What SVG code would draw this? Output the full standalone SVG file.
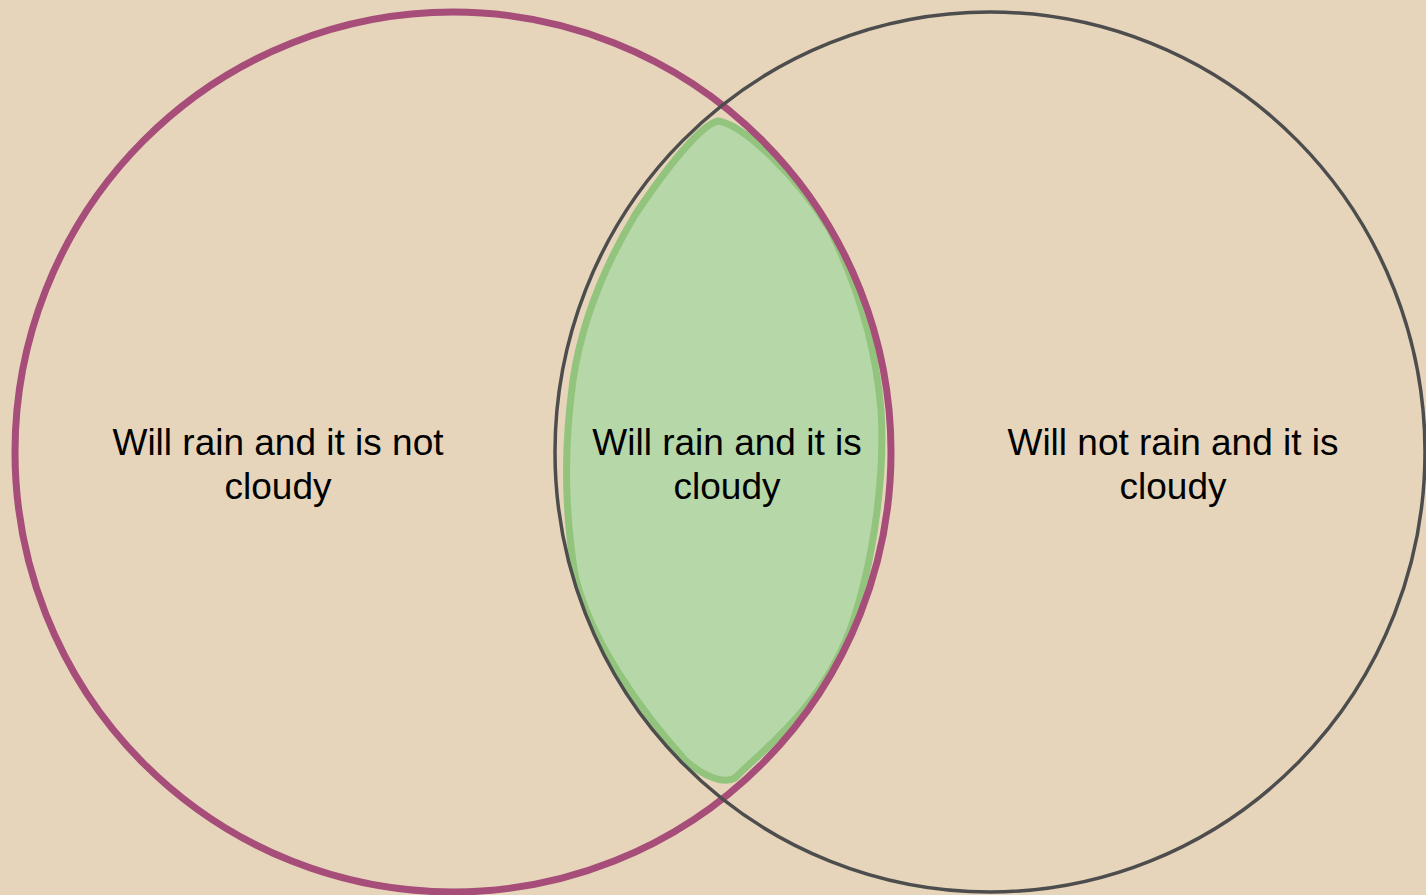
<svg xmlns="http://www.w3.org/2000/svg" width="1426" height="895" viewBox="0 0 1426 895">
<style>
.lbl{font-family:"Liberation Sans",Arial,sans-serif;font-size:37px;fill:#000;text-anchor:middle}
</style>
<rect width="1426" height="895" fill="#e6d5bb"/>
<g id="intersection">
<path d="M718,121 C700,125 665,170 635,215 C605,265 582,320 573,380 C565,440 563,500 575,575 C590,640 640,710 685,760 C705,778 725,784 735,778 C760,752 820,710 850,630 C875,560 885,470 881,410 C876,350 860,290 830,230 C800,180 745,125 718,121 Z" fill="#b6d7a8" stroke="#93c47d" stroke-width="7" stroke-linejoin="round"/>
</g>
<g id="rain-circle">
<ellipse cx="453" cy="452" rx="438" ry="440" fill="none" stroke="#a64d79" stroke-width="7"/>
</g>
<g id="cloudy-circle">
<ellipse cx="990" cy="452" rx="435" ry="440" fill="none" stroke="#4d4d4d" stroke-width="3.5"/>
</g>
<g id="labels">
<text class="lbl" x="278" y="455">Will rain and it is not</text>
<text class="lbl" x="278" y="499">cloudy</text>
<text class="lbl" x="727" y="455">Will rain and it is</text>
<text class="lbl" x="727" y="499">cloudy</text>
<text class="lbl" x="1173" y="455">Will not rain and it is</text>
<text class="lbl" x="1173" y="499">cloudy</text>
</g>
</svg>
